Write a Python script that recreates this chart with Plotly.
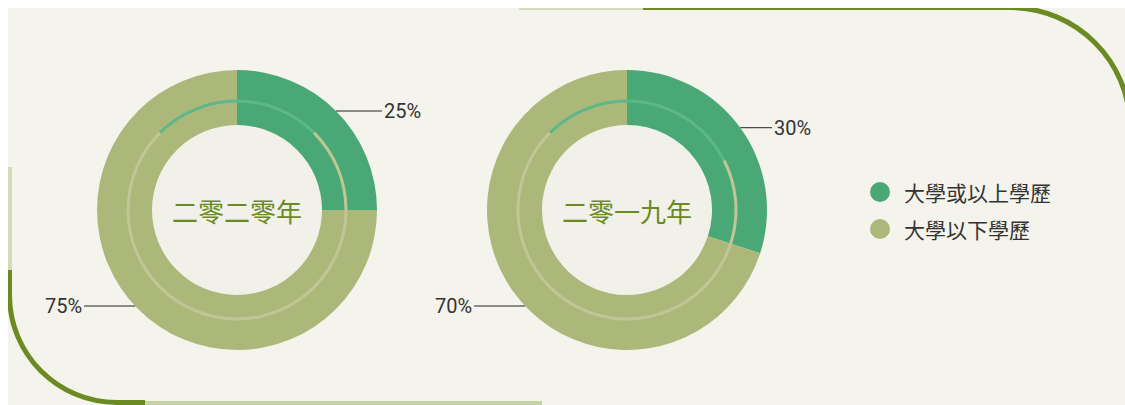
import math
import plotly.graph_objects as go

# ---------------- data ----------------
categories = ["大學或以上學歷", "大學以下學歷"]
years = ["二零二零年", "二零一九年"]
values_2020 = [25, 75]
values_2019 = [30, 70]
series = [values_2020, values_2019]

# ---------------- style ----------------
GREEN = "#4aa876"
TAN = "#abb87a"
RING_GREEN = "#5cb888"
RING_TAN = "#c0c696"
OLIVE = "#6b8a21"
LIGHT = "#d4dbbb"
CARD = "#f4f3ec"
HOLE_FILL = "#f1f1e9"
TEXT = "#333333"

W, H = 1125, 405
OFF = 8  # page body margin (top/left)
FW, FH = W - OFF, H - OFF

CENTERS = [(237, 210), (627, 210)]
R = 140
HOLE_R = 85
RING_R = 109
RING_W = 3
LOW_LABEL_DY = 96


def px_dom_x(a, b):
    return [(a - OFF) / FW, (b - OFF) / FW]


def px_dom_y(top, bottom):
    return [1 - (bottom - OFF) / FH, 1 - (top - OFF) / FH]


fig = go.Figure()
shapes = []
annotations = []

for (cx, cy), vals, year in zip(CENTERS, series, years):
    # hole fill
    shapes.append(dict(type="circle", xref="x", yref="y", x0=cx - HOLE_R, x1=cx + HOLE_R,
                       y0=cy - HOLE_R, y1=cy + HOLE_R, fillcolor=HOLE_FILL,
                       line=dict(width=0), layer="below"))
    fig.add_trace(go.Pie(
        values=vals, labels=categories, sort=False, direction="clockwise", rotation=0,
        hole=HOLE_R / R, marker=dict(colors=[GREEN, TAN], line=dict(width=0)),
        textinfo="none", hoverinfo="skip", showlegend=False,
        domain=dict(x=px_dom_x(cx - R, cx + R), y=px_dom_y(cy - R, cy + R)),
    ))
    ro = RING_R + RING_W / 2
    ri = RING_R - RING_W / 2
    fig.add_trace(go.Pie(
        values=vals, labels=categories, sort=False, direction="clockwise", rotation=-45,
        hole=ri / ro, marker=dict(colors=[RING_GREEN, RING_TAN], line=dict(width=0)),
        textinfo="none", hoverinfo="skip", showlegend=False,
        domain=dict(x=px_dom_x(cx - ro, cx + ro), y=px_dom_y(cy - ro, cy + ro)),
    ))
    annotations.append(dict(x=cx, y=cy, xref="x", yref="y", text=year, showarrow=False,
                            font=dict(family="Noto Sans CJK TC", size=26, color=OLIVE),
                            xanchor="center", yanchor="middle"))
    # leader labels
    total = sum(vals)
    mid = (vals[0] / 2) / total * 2 * math.pi
    x1 = cx + R * math.sin(mid)
    y1 = cy - R * math.cos(mid)
    shapes.append(dict(type="line", xref="x", yref="y", x0=x1, y0=y1, x1=cx + R + 5, y1=y1,
                       line=dict(color="#222222", width=1)))
    annotations.append(dict(x=cx + R + 5, y=y1, xref="x", yref="y", text=f"{vals[0]}%",
                            showarrow=False, xanchor="left", yanchor="middle",
                            font=dict(family="Roboto", size=20, color=TEXT)))
    y2 = cy + LOW_LABEL_DY
    x2 = cx - math.sqrt(R ** 2 - LOW_LABEL_DY ** 2)
    shapes.append(dict(type="line", xref="x", yref="y", x0=x2, y0=y2, x1=cx - R - 13, y1=y2,
                       line=dict(color="#222222", width=1)))
    annotations.append(dict(x=cx - R - 13, y=y2, xref="x", yref="y", text=f"{vals[1]}%",
                            showarrow=False, xanchor="right", yanchor="middle",
                            font=dict(family="Roboto", size=20, color=TEXT)))

# legend
LEG_X = 880
LEG_Y = [192, 229]
fig.add_trace(go.Scatter(x=[LEG_X] * len(categories), y=LEG_Y, mode="markers",
                         marker=dict(size=20, color=[GREEN, TAN], line=dict(width=0)),
                         hoverinfo="skip", showlegend=False))
for cat, ly in zip(categories, LEG_Y):
    annotations.append(dict(x=LEG_X + 22, y=ly, xref="x", yref="y", text=cat, showarrow=False,
                            xanchor="left", yanchor="middle",
                            font=dict(family="Noto Sans CJK TC", size=21, color=TEXT)))

# decorative border lines
shapes += [
    dict(type="path", xref="x", yref="y", path="M 519,7.5 L 643,7.5",
         line=dict(color=LIGHT, width=5)),
    dict(type="path", xref="x", yref="y",
         path="M 643,7.5 L 1010,7.5 C 1076,7.5 1130,61 1130,127",
         line=dict(color=OLIVE, width=5)),
    dict(type="path", xref="x", yref="y", path="M 9.5,167 L 9.5,270",
         line=dict(color=LIGHT, width=5)),
    dict(type="path", xref="x", yref="y",
         path="M 9.5,270 L 9.5,295 C 9.5,354.4 57.6,402.5 117,402.5 L 145,402.5",
         line=dict(color=OLIVE, width=5)),
    dict(type="path", xref="x", yref="y", path="M 145,403 L 542,403",
         line=dict(color="#c6d2a4", width=4)),
]

fig.update_layout(
    width=FW, height=FH, autosize=False,
    margin=dict(l=0, r=0, t=0, b=0, pad=0),
    paper_bgcolor=CARD, plot_bgcolor=CARD,
    xaxis=dict(range=[OFF, W], visible=False, fixedrange=True),
    yaxis=dict(range=[H, OFF], visible=False, fixedrange=True),
    shapes=shapes, annotations=annotations, showlegend=False,
)

fig.write_html(
    "out.html",
    config={"displayModeBar": False},
    post_script="document.body.style.margin='8px 0 0 8px';"
                "document.documentElement.style.overflow='hidden';"
                "document.body.style.overflow='hidden';",
)
